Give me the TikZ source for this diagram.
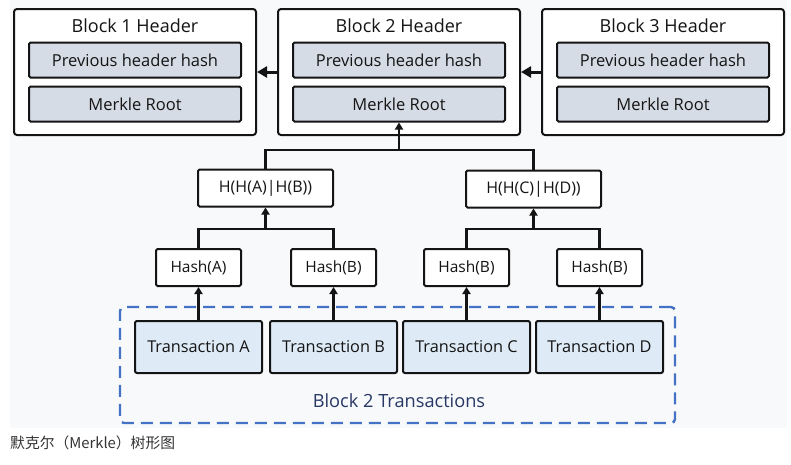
\documentclass[tikz,border=0pt]{standalone}
\usepackage{fontspec}
\setmainfont{Open Sans}
\newfontfamily\cjk{Noto Sans CJK SC}
\usetikzlibrary{arrows.meta}
\definecolor{bgc}{RGB}{248,249,251}
\definecolor{innerc}{RGB}{214,220,229}
\definecolor{txc}{RGB}{222,235,247}
\definecolor{dashc}{RGB}{68,114,196}
\definecolor{navy}{RGB}{40,56,100}
\definecolor{ink}{RGB}{20,20,20}
\tikzset{
  outerbox/.style={draw=ink, line width=2pt, rounded corners=3pt, fill=white, minimum width=242, minimum height=126, inner sep=0pt},
  innerbox/.style={draw=ink, line width=2pt, rounded corners=1.5pt, fill=innerc, minimum width=212, minimum height=35, inner sep=0pt, font=\fontsize{16.5}{19}\selectfont, text=ink},
  titletext/.style={font=\fontsize{18}{21}\selectfont, text=ink, inner sep=0pt},
  hashbox/.style={draw=ink, line width=2pt, rounded corners=1.5pt, fill=white, minimum height=37, inner sep=0pt, font=\fontsize{15.5}{18}\selectfont, text=ink},
  txbox/.style={draw=ink, line width=2pt, rounded corners=2pt, fill=txc, minimum width=127, minimum height=52, inner sep=0pt, font=\fontsize{16.3}{19}\selectfont, text=ink},
  conn/.style={draw=ink, line width=2.4pt},
  treearrow/.style={draw=ink, line width=2.4pt, -{Triangle[length=7pt,width=8pt]}},
  hdrarrow/.style={draw=ink, line width=3pt, -{Triangle[length=10pt,width=11pt]}},
  dashbox/.style={draw=dashc, line width=2.4pt, dash pattern=on 12pt off 7pt, rounded corners=4pt, minimum width=555, minimum height=116, inner sep=0pt},
}
\begin{document}
\begin{tikzpicture}[x=1pt,y=-1pt]
\useasboundingbox (0,0) rectangle (791,464);
\fill[bgc] (10,0) rectangle (787,428);

% block headers
\node[outerbox] (b1) at (135,72) {};
\node[outerbox] (b2) at (399,72) {};
\node[outerbox] (b3) at (663,72) {};
\node[titletext] (t1) at (135,26) {Block 1 Header};
\node[titletext] (t2) at (399,26) {Block 2 Header};
\node[titletext] (t3) at (663,26) {Block 3 Header};
\node[innerbox] (p1) at (135,60) {Previous header hash};
\node[innerbox] (p2) at (399,60) {Previous header hash};
\node[innerbox] (p3) at (663,60) {Previous header hash};
\node[innerbox] (m1) at (135,104) {Merkle Root};
\node[innerbox] (m2) at (399,104) {Merkle Root};
\node[innerbox] (m3) at (663,104) {Merkle Root};

\draw[hdrarrow] (b2.west) -- (b1.east);
\draw[hdrarrow] (b3.west) -- (b2.east);

% tree
\node[hashbox, minimum width=135, font=\fontsize{16}{19}\selectfont] (hab) at (265.5,188) {H(H(A)|H(B))};
\node[hashbox, minimum width=135, font=\fontsize{16}{19}\selectfont] (hcd) at (533.5,189) {H(H(C)|H(D))};
\node[hashbox, minimum width=85] (ha) at (198.5,267.5) {Hash(A)};
\node[hashbox, minimum width=85] (hb) at (333.5,267.5) {Hash(B)};
\node[hashbox, minimum width=85] (hc) at (466.5,267.5) {Hash(B)};
\node[hashbox, minimum width=85] (hd) at (599.5,267.5) {Hash(B)};

\coordinate (jtop) at (399,150);
\coordinate (jab) at (265.5,229);
\coordinate (jcd) at (533.5,229);

\draw[conn] (hab.north) |- (jtop) -| (hcd.north);
\draw[treearrow] (jtop) -- (m2.south);
\draw[conn] (ha.north) |- (jab) -| (hb.north);
\draw[treearrow] (jab) -- (hab.south);
\draw[conn] (hc.north) |- (jcd) -| (hd.north);
\draw[treearrow] (jcd) -- (hcd.south);

% transactions
\node[dashbox] (grp) at (397.5,365) {};
\node[txbox] (ta) at (198.5,347) {Transaction A};
\node[txbox] (tb) at (333.5,347) {Transaction B};
\node[txbox] (tc) at (466.5,347) {Transaction C};
\node[txbox] (td) at (599.5,347) {Transaction D};
\node[font=\fontsize{18.2}{21}\selectfont, text=navy, inner sep=0pt] (glabel) at (399,401) {Block 2 Transactions};

\draw[treearrow] (ta.north) -- (ha.south);
\draw[treearrow] (tb.north) -- (hb.south);
\draw[treearrow] (tc.north) -- (hc.south);
\draw[treearrow] (td.north) -- (hd.south);

% caption
\node[anchor=west, inner sep=0pt, font=\cjk\fontsize{14.8}{17}\selectfont, text=black!80] (cap) at (10,443) {默克尔（Merkle）树形图};
\end{tikzpicture}
\end{document}
